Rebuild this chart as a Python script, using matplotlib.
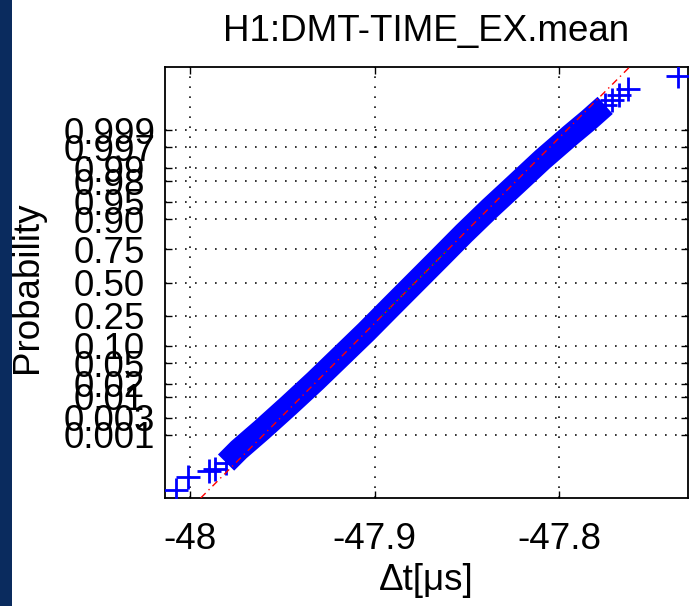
import math
import matplotlib
matplotlib.use("Agg")
import matplotlib.pyplot as plt
from matplotlib.patches import Rectangle

plt.rcParams['font.family'] = ['Liberation Sans', 'DejaVu Sans']

# ---------------- data ----------------
title = "H1:DMT-TIME_EX.mean"
xlabel = "Δt[μs]"
ylabel = "Probability"

prob_ticks = [0.001, 0.003, 0.01, 0.02, 0.05, 0.10, 0.25, 0.50,
              0.75, 0.90, 0.95, 0.98, 0.99, 0.997, 0.999]
prob_labels = ['0.001', '0.003', '0.01', '0.02', '0.05', '0.10', '0.25', '0.50',
               '0.75', '0.90', '0.95', '0.98', '0.99', '0.997', '0.999']
x_ticks = [-48.0, -47.9, -47.8]
x_tick_labels = ['-48', '-47.9', '-47.8']

# dense core of the sorted samples: normal quantile (z) vs. value
band_z = [-3.66, -3.4, -3.0, -2.5, -2.0, -1.5, -1.0, -0.5, 0.0,
          0.5, 1.0, 1.5, 2.0, 2.5, 3.0, 3.3, 3.6]
band_dt = [-47.9805, -47.9736, -47.9613, -47.9465, -47.9321, -47.9183,
           -47.9045, -47.8913, -47.8780, -47.8647, -47.8515, -47.8377,
           -47.8233, -47.8090, -47.7936, -47.7840, -47.7750]

# sparse tail samples
tail_z = [-4.213, -3.963, -3.827, -3.793, 3.713, 3.815, 3.931, 4.207]
tail_dt = [-48.0076, -48.0009, -47.9895, -47.9864,
           -47.7713, -47.7675, -47.7624, -47.7355]

# quartiles of the sample (reference line passes through them)
quart_p = [0.25, 0.75]
quart_dt = [-47.8959, -47.8601]

x_limits = [-48.0136, -47.7301]
z_limits = [-4.38, 4.38]


def norm_ppf(p):
    lo, hi = -12.0, 12.0
    for _ in range(200):
        mid = 0.5 * (lo + hi)
        if 0.5 * (1.0 + math.erf(mid / math.sqrt(2.0))) < p:
            lo = mid
        else:
            hi = mid
    return 0.5 * (lo + hi)


# ---------------- figure ----------------
W, H = 693, 606
FS = 26.5
fig = plt.figure(figsize=(W / 100, H / 100), dpi=100)
fig.add_artist(Rectangle((0, 0), 12 / W, 1, transform=fig.transFigure,
                         facecolor='#0a2b5e', edgecolor='none', zorder=0))

L, R, T, B = 165, 688, 67, 498
ax = fig.add_axes([L / W, 1 - B / H, (R - L) / W, (B - T) / H])

blue = (0, 0, 1)
# dense band
ax.plot(band_dt, band_z, color=blue, lw=16.5, solid_capstyle='butt', zorder=2)
ax.plot(band_dt + tail_dt, band_z + tail_z, linestyle='none', marker='+',
        ms=17, mew=2.0, color=blue, zorder=3)

# reference line
qz = [norm_ppf(p) for p in quart_p]
ax.axline((quart_dt[0], qz[0]), (quart_dt[1], qz[1]), color='red', lw=1.0,
          linestyle=(0, (5, 3, 1, 3)), zorder=4)
ax.plot(quart_dt, qz, color=(0, 0.55, 0), lw=1.0, linestyle=(0, (1, 3)), zorder=5)

ax.set_xlim(x_limits)
ax.set_ylim(z_limits)
ax.set_xticks(x_ticks)
ax.set_xticklabels(x_tick_labels, fontsize=FS)
ax.set_yticks([norm_ppf(p) for p in prob_ticks])
ax.set_yticklabels(prob_labels, fontsize=FS)
for lab in ax.get_yticklabels():
    lab.set_horizontalalignment('center')

ax.tick_params(axis='both', which='both', direction='in', top=True, right=True,
               length=5, width=1, colors='black')
ax.tick_params(axis='y', pad=40)
ax.tick_params(axis='x', pad=17)
ax.grid(True, color='#111111', linestyle=(0, (1, 5)), linewidth=1.2)
ax.set_axisbelow(True)
for s in ax.spines.values():
    s.set_linewidth(1.3)
    s.set_color('black')

fig.text((L + R) / 2 / W, 1 - 41 / H, title, ha='center', va='baseline', fontsize=FS)
fig.text((L + R) / 2 / W, 1 - 590 / H, xlabel, ha='center', va='baseline', fontsize=FS)
fig.text(28 / W, 1 - 287 / H, ylabel, ha='center', va='center', rotation=90, fontsize=FS)

fig.savefig("out.png", dpi=100)
